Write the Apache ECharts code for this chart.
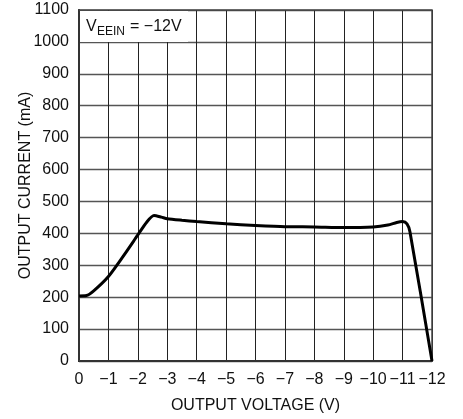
<!DOCTYPE html>
<html>
<head>
<meta charset="utf-8">
<script src="https://cdn.jsdelivr.net/npm/echarts@6/dist/echarts.min.js"></script>
<style>
html,body{margin:0;padding:0;background:#fff;}
#c{width:463px;height:419px;}
</style>
</head>
<body>
<div id="c"></div>
<script>
// Data
var voltage = [0, -0.25, -0.5, -1.0, -1.5, -2.0, -2.3, -2.55, -2.8, -3.0, -3.5, -4.0, -5.0, -6.0, -7.0, -8.0, -9.0, -10.0, -10.5, -10.8, -11.0, -11.15, -11.25, -12.0];
var current = [204, 205, 220, 265, 328, 395, 435, 456, 451, 446, 441, 437, 430, 425, 421, 420, 418, 420, 426, 434, 437, 430, 405, 0];
var xTicks = [0, -1, -2, -3, -4, -5, -6, -7, -8, -9, -10, -11, -12];
var yTicks = [0, 100, 200, 300, 400, 500, 600, 700, 800, 900, 1000, 1100];
var xTitle = 'OUTPUT VOLTAGE (V)';
var yTitle = 'OUTPUT CURRENT (mA)';

var FONT = '"Liberation Sans", Arial, Helvetica, sans-serif';
var chart = echarts.init(document.getElementById('c'), null, {renderer: 'canvas'});
var pts = voltage.map(function (v, i) { return [v, current[i]]; });

chart.setOption({
  animation: false,
  backgroundColor: '#fff',
  grid: {left: 79, top: 10, width: 353, height: 352, show: true, borderColor: '#444', borderWidth: 1.5, backgroundColor: 'transparent', z: 3},
  xAxis: {
    type: 'value', inverse: true, min: xTicks[xTicks.length - 1], max: xTicks[0], interval: 1,
    name: xTitle, nameLocation: 'middle', nameGap: 37, nameMoveOverlap: false,
    nameTextStyle: {fontFamily: FONT, fontSize: 16, color: '#111'},
    axisLine: {show: true, onZero: false, lineStyle: {color: '#000', width: 2}},
    axisTick: {show: false},
    axisLabel: {fontFamily: FONT, fontSize: 16, color: '#111', margin: 11,
      formatter: function (v) { return v === 0 ? '0' : String(v).replace('-', '\u2212'); }},
    splitLine: {show: true, lineStyle: {color: '#222', width: 1}}
  },
  yAxis: {
    type: 'value', min: yTicks[0], max: yTicks[yTicks.length - 1], interval: 100,
    name: yTitle, nameLocation: 'middle', nameGap: 45, nameRotate: 90, nameMoveOverlap: false,
    nameTextStyle: {fontFamily: FONT, fontSize: 16, color: '#111'},
    axisLine: {show: true, lineStyle: {color: '#000', width: 2}},
    axisTick: {show: false},
    axisLabel: {fontFamily: FONT, fontSize: 16, color: '#111', margin: 10,
      formatter: function (v) { return String(v); }},
    splitLine: {show: true, lineStyle: {color: '#555', width: 1.3}}
  },
  graphic: [
    {type: 'rect', z: 5, shape: {x: 80, y: 11, width: 108, height: 31}, style: {fill: '#fff'}},
    {type: 'text', z: 6, left: 86, top: 19, style: {text: 'V', fontFamily: FONT, fontSize: 16, fill: '#111'}},
    {type: 'text', z: 6, left: 97, top: 26, style: {text: 'EEIN', fontFamily: FONT, fontSize: 12, fill: '#111'}},
    {type: 'text', z: 6, left: 130, top: 19, style: {text: '= \u221212V', fontFamily: FONT, fontSize: 16, fill: '#111'}}
  ],
  series: [{
    type: 'line', data: pts, smooth: 0.25, showSymbol: false, z: 10,
    lineStyle: {color: '#000', width: 3}
  }]
});
</script>
</body>
</html>
